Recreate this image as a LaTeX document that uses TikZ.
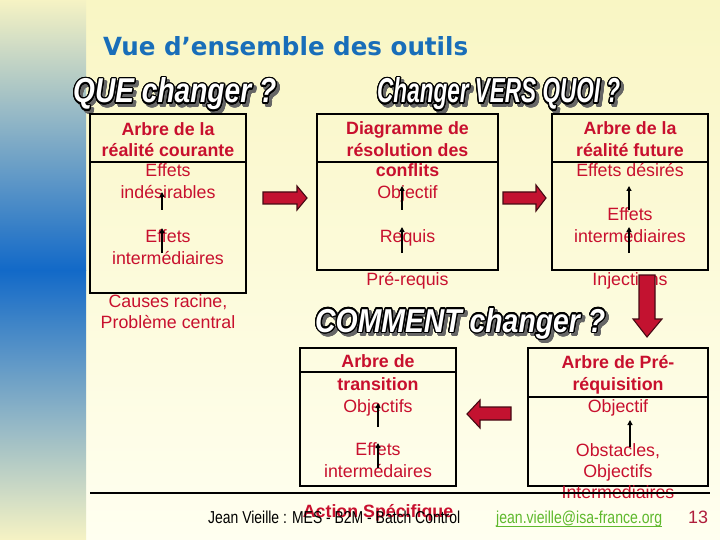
\documentclass[tikz,border=0pt]{standalone}
\usepackage{fontspec}
\setmainfont{Liberation Sans}
\newfontfamily\titlefont{DejaVu Sans}
\usepackage{contour}
\contourlength{1.3pt}
\contournumber{20}
\usetikzlibrary{arrows.meta,calc}
\definecolor{crim}{RGB}{200,16,46}
\definecolor{arrowred}{RGB}{195,18,48}
\definecolor{arrowedge}{RGB}{70,10,20}
\definecolor{titleblue}{RGB}{25,110,185}
\definecolor{bgtop}{RGB}{249,246,196}
\definecolor{bgbot}{RGB}{255,255,240}
\definecolor{stripy}{RGB}{246,243,196}
\definecolor{stripb}{RGB}{18,105,200}
\definecolor{mailgreen}{RGB}{95,185,45}
\definecolor{numred}{RGB}{175,30,60}
\newcommand\headtxt[3]{\resizebox{#1}{#2}{\bfseries\itshape #3}}
\begin{document}
\begin{tikzpicture}[x=1pt,y=-1pt,
 bt/.style={text=crim, font=\bfseries\fontsize{17.8}{21.5}\selectfont, anchor=base, inner sep=0pt},
 rt/.style={text=crim, font=\fontsize{17.8}{21.5}\selectfont, anchor=base, inner sep=0pt},
 boxframe/.style={draw=black, line width=1.6pt, inner sep=0pt},
 divline/.style={draw=black, line width=1.4pt},
 smallarrow/.style={-{Triangle[length=5pt,width=5pt]}, line width=1.4pt, draw=black},
 blockarrow/.style={fill=arrowred, draw=arrowedge, line width=1.1pt, line join=miter},
 headshadow/.style={anchor=base west, inner sep=0pt, text=black!60},
 headmain/.style={anchor=base west, inner sep=0pt, text=white},
]
\useasboundingbox (0,0) rectangle (720,540);
% background
\shade[top color=bgtop, bottom color=bgbot] (86,0) rectangle (720,540);
\shade[top color=stripy, bottom color=stripb] (0,0) rectangle (86,270);
\shade[top color=stripb, bottom color=stripy] (0,270) rectangle (86,540);

% title
\node[anchor=base west, inner sep=0pt, text=titleblue] (title) at (103,56)
  {\resizebox{365pt}{19pt}{\titlefont\bfseries Vue d’ensemble des outils}};

% headings
\node[headshadow] (h1s) at (76,106) {\contour{black!60}{\headtxt{203pt}{25pt}{QUE changer ?}}};
\node[headmain] (h1) at (73,103) {\contour{black}{\headtxt{203pt}{25pt}{QUE changer ?}}};
\node[headshadow] (h2s) at (380,106) {\contour{black!60}{\headtxt{243pt}{25pt}{Changer VERS QUOI ?}}};
\node[headmain] (h2) at (377,103) {\contour{black}{\headtxt{243pt}{25pt}{Changer VERS QUOI ?}}};
\node[headshadow] (h3s) at (318,335) {\contour{black!60}{\headtxt{290pt}{24pt}{COMMENT changer ?}}};
\node[headmain] (h3) at (315,332) {\contour{black}{\headtxt{290pt}{24pt}{COMMENT changer ?}}};

% ---------- box 1
\node[boxframe, minimum width=156pt, minimum height=179pt] (box1) at (168,203.5) {};
\draw[divline] (90,162) -- (246,162);
\node[bt] (b1l1) at (168,136) {Arbre de la};
\node[bt] (b1l2) at (168,157) {réalité courante};
\node[rt] (b1l3) at (168,177) {Effets};
\node[rt] (b1l4) at (168,199) {indésirables};
\node[rt] (b1l5) at (168,242) {Effets};
\node[rt] (b1l6) at (168,264) {intermédiaires};
\node[rt] (b1l7) at (168,307) {Causes racine,};
\node[rt] (b1l8) at (168,328) {Problème central};
\coordinate (a11s) at (162,210); \coordinate (a11e) at (162,192);
\coordinate (a12s) at (162,253); \coordinate (a12e) at (162,228);
\draw[smallarrow] (a11s) -- (a11e);
\draw[smallarrow] (a12s) -- (a12e);

% ---------- box 2
\node[boxframe, minimum width=181pt, minimum height=156pt] (box2) at (407.5,192) {};
\draw[divline] (317,162) -- (498,162);
\node[bt] (b2l1) at (407.5,135) {Diagramme de};
\node[bt] (b2l2) at (407.5,157) {résolution des};
\node[bt] (b2l3) at (407.5,177) {conflits};
\node[rt] (b2l4) at (407.5,199) {Objectif};
\node[rt] (b2l5) at (407.5,242) {Requis};
\node[rt] (b2l6) at (407.5,285) {Pré-requis};
\coordinate (a21s) at (402,210); \coordinate (a21e) at (402,186);
\coordinate (a22s) at (402,253); \coordinate (a22e) at (402,227);
\draw[smallarrow] (a21s) -- (a21e);
\draw[smallarrow] (a22s) -- (a22e);

% ---------- box 3
\node[boxframe, minimum width=156pt, minimum height=156pt] (box3) at (630,192) {};
\draw[divline] (552,162) -- (708,162);
\node[bt] (b3l1) at (630,135) {Arbre de la};
\node[bt] (b3l2) at (630,157) {réalité future};
\node[rt] (b3l3) at (630,177) {Effets désirés};
\node[rt] (b3l4) at (630,221) {Effets};
\node[rt] (b3l5) at (630,242) {intermédiaires};
\node[rt] (b3l6) at (630,285) {Injections};
\coordinate (a31s) at (629,210); \coordinate (a31e) at (629,186);
\coordinate (a32s) at (629,253); \coordinate (a32e) at (629,227);
\draw[smallarrow] (a31s) -- (a31e);
\draw[smallarrow] (a32s) -- (a32e);

% ---------- box 4
\node[boxframe, minimum width=156pt, minimum height=138pt] (box4) at (378,417) {};
\draw[divline] (300,372) -- (456,372);
\node[bt] (b4l1) at (378,367) {Arbre de};
\node[bt] (b4l2) at (378,390) {transition};
\node[rt] (b4l3) at (378,412) {Objectifs};
\node[rt] (b4l4) at (378,455) {Effets};
\node[rt] (b4l5) at (378,477) {intermédaires};
\node[bt] (b4l6) at (378,517) {Action Spécifique};
\coordinate (a41s) at (378,427); \coordinate (a41e) at (378,403);
\coordinate (a42s) at (378,468); \coordinate (a42e) at (378,443);
\draw[smallarrow] (a41s) -- (a41e);
\draw[smallarrow] (a42s) -- (a42e);

% ---------- box 5
\node[boxframe, minimum width=180pt, minimum height=138pt] (box5) at (618,417) {};
\draw[divline] (528,397) -- (708,397);
\node[bt] (b5l1) at (618,368) {Arbre de Pré-};
\node[bt] (b5l2) at (618,390) {réquisition};
\node[rt] (b5l3) at (618,412) {Objectif};
\node[rt] (b5l4) at (618,456) {Obstacles,};
\node[rt] (b5l5) at (618,477) {Objectifs};
\node[rt] (b5l6) at (618,498) {Intermediaires};
\coordinate (a51s) at (630,447); \coordinate (a51e) at (630,420);
\draw[smallarrow] (a51s) -- (a51e);

% ---------- block arrows
\draw[blockarrow] (263,192) -- (297,192) -- (297,186) -- (307,198) -- (297,210) -- (297,204) -- (263,204) -- cycle;
\draw[blockarrow] (503,192) -- (536,192) -- (536,185) -- (546,198) -- (536,211) -- (536,204) -- (503,204) -- cycle;
\draw[blockarrow] (639,275) -- (655,275) -- (655,319) -- (662,319) -- (647,337) -- (633,319) -- (639,319) -- cycle;
\draw[blockarrow] (511,407) -- (480,407) -- (480,400) -- (467,414) -- (480,428) -- (480,420) -- (511,420) -- cycle;

% ---------- footer
\draw[line width=2pt] (90,492.5) -- (710,492.5);
\node[anchor=base west, inner sep=0pt] (foot) at (208,523)
  {\resizebox{252pt}{12.5pt}{Jean Vieille : MES - B2M - Batch Control}};
\node[anchor=base west, inner sep=0pt, text=mailgreen] (mail) at (496,523)
  {\resizebox{166pt}{12.5pt}{jean.vieille@isa-france.org}};
\draw[mailgreen, line width=1pt] (mail.south west) -- (mail.south east);
\node[anchor=base west, inner sep=0pt, text=numred] (num) at (688,523)
  {\resizebox{!}{12.5pt}{13}};
\end{tikzpicture}
\end{document}
